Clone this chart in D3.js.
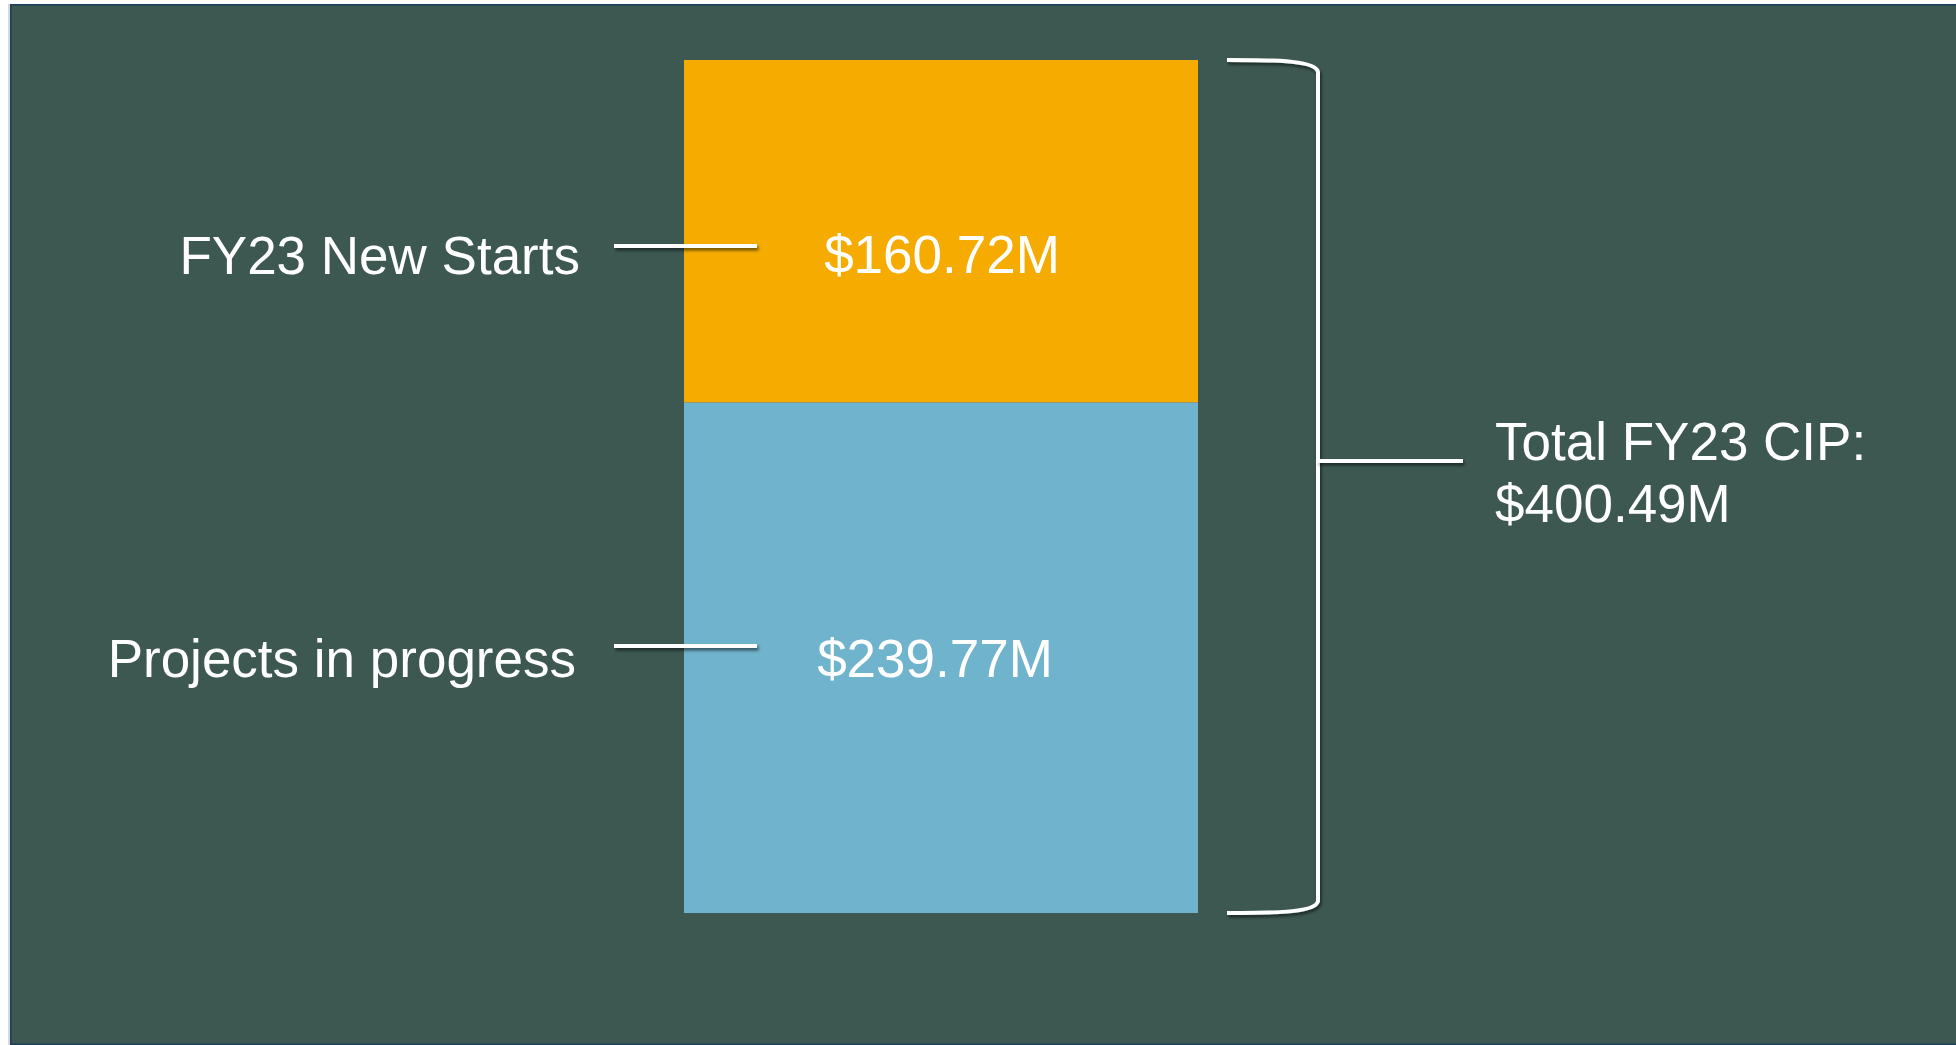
<!DOCTYPE html>
<html>
<head>
<meta charset="utf-8">
<script src="https://cdn.jsdelivr.net/npm/d3@7"></script>
<style>
  html, body { margin: 0; padding: 0; background: #ffffff; }
  svg { display: block; }
  text { font-family: "Liberation Sans", Arial, sans-serif; fill: #ffffff; }
</style>
</head>
<body>
<svg id="chart" width="1956" height="1045"></svg>
<script>
// FY23 Capital Improvement Program breakdown ($ millions)
const categories = ["Projects in progress", "FY23 New Starts"];
const values = [239.77, 160.72];
const valueLabels = ["$239.77M", "$160.72M"];
const colors = ["#6fb3cc", "#f5ab00"];
const totalLabel = ["Total FY23 CIP:", "$400.49M"];

const total = d3.sum(values);

// layout
const W = 1956, H = 1045;
const barX0 = 684, barX1 = 1198;
const barTop = 60, barBottom = 913;
const fontSize = 53;
const labelY = [646, 246];        // connector line heights, per category
const valueBaseline = [677, 273];
const valueCenterX = [935, 942];
const catRightX = [576, 580];
const catBaseline = [677, 274];
const connX0 = 614, connX1 = 757;
const bracketX = 1318, bracketLeft = 1227;
const braceTickY = 461, braceTickX1 = 1463;
const totalX = 1495, totalBaselines = [460, 522];

const svg = d3.select("#chart");

// soft drop shadow under the white callout lines
const defs = svg.append("defs");
const shadow = defs.append("filter").attr("id", "lineShadow")
  .attr("filterUnits", "userSpaceOnUse")
  .attr("x", 0).attr("y", 0).attr("width", W).attr("height", H);
shadow.append("feDropShadow")
  .attr("dx", 1.5).attr("dy", 2.5).attr("stdDeviation", 1.6)
  .attr("flood-color", "#000").attr("flood-opacity", 0.55);

// slide panel
svg.append("rect")
  .attr("x", 8).attr("y", 4).attr("width", 3).attr("height", H)
  .attr("fill", "#d9d9d9");
svg.append("rect")
  .attr("x", 10.75).attr("y", 4.75).attr("width", W + 10).attr("height", 1039.5)
  .attr("fill", "#3d5851").attr("stroke", "#1b3d5c").attr("stroke-width", 1.5);

// scales
const y = d3.scaleLinear().domain([0, total]).range([barBottom, barTop]);
const x = d3.scaleBand().domain(["FY23"]).range([barX0, barX1]).padding(0);

// stacked segments
const stackData = [Object.fromEntries(categories.map((c, i) => [c, values[i]]))];
const series = d3.stack().keys(categories)(stackData);

svg.append("g").selectAll("rect")
  .data(series)
  .join("rect")
  .attr("x", x("FY23"))
  .attr("width", x.bandwidth())
  .attr("y", d => y(d[0][1]))
  .attr("height", d => y(d[0][0]) - y(d[0][1]))
  .attr("fill", (d, i) => colors[i]);

// value labels inside segments
svg.append("g").selectAll("text")
  .data(valueLabels)
  .join("text")
  .attr("x", (d, i) => valueCenterX[i])
  .attr("y", (d, i) => valueBaseline[i])
  .attr("text-anchor", "middle")
  .attr("font-size", fontSize)
  .text(d => d);

// connector lines to category names
svg.append("g").selectAll("line")
  .data(categories)
  .join("line")
  .attr("x1", connX0).attr("x2", connX1)
  .attr("y1", (d, i) => labelY[i]).attr("y2", (d, i) => labelY[i])
  .attr("stroke", "#ffffff").attr("stroke-width", 4)
  .attr("filter", "url(#lineShadow)");

svg.append("g").selectAll("text")
  .data(categories)
  .join("text")
  .attr("x", (d, i) => catRightX[i])
  .attr("y", (d, i) => catBaseline[i])
  .attr("text-anchor", "end")
  .attr("font-size", fontSize)
  .text(d => d);

// bracket spanning the whole bar
const yTop = y(total), yBot = y(0);
const p = d3.path();
p.moveTo(bracketLeft, yTop);
p.bezierCurveTo(bracketLeft + 55, yTop, bracketX - 2, yTop + 1, bracketX, yTop + 12);
p.lineTo(bracketX, yBot - 12);
p.bezierCurveTo(bracketX - 2, yBot - 1, bracketLeft + 55, yBot, bracketLeft, yBot);
svg.append("path")
  .attr("d", p.toString())
  .attr("fill", "none").attr("stroke", "#ffffff").attr("stroke-width", 4)
  .attr("filter", "url(#lineShadow)");

svg.append("line")
  .attr("x1", bracketX).attr("x2", braceTickX1)
  .attr("y1", braceTickY).attr("y2", braceTickY)
  .attr("stroke", "#ffffff").attr("stroke-width", 4)
  .attr("filter", "url(#lineShadow)");

svg.append("g").selectAll("text")
  .data(totalLabel)
  .join("text")
  .attr("x", totalX)
  .attr("y", (d, i) => totalBaselines[i])
  .attr("font-size", fontSize)
  .text(d => d);
</script>
</body>
</html>
